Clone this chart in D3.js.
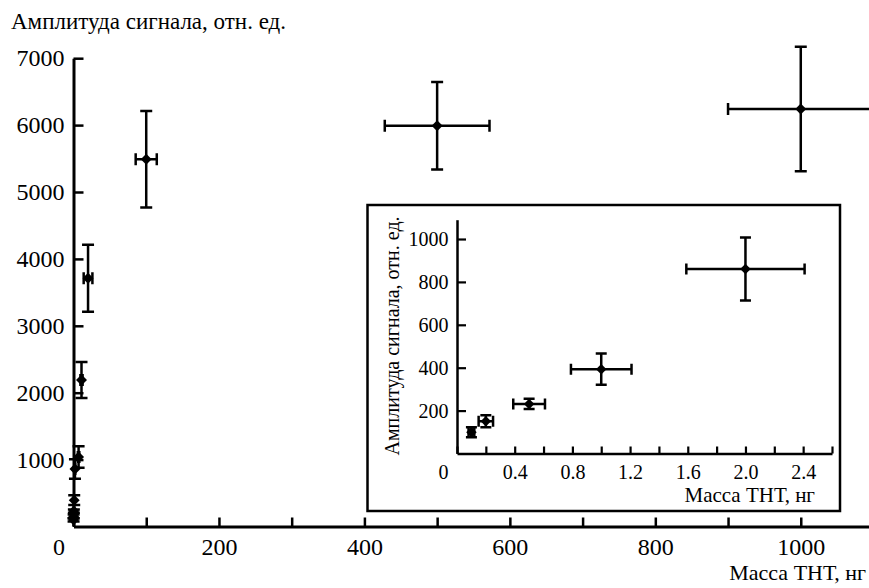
<!DOCTYPE html>
<html>
<head>
<meta charset="utf-8">
<script src="https://cdn.jsdelivr.net/npm/d3@7"></script>
<style>
    html, body { margin: 0; padding: 0; background: #fff; }
    svg { display: block; }
</style>
</head>
<body>
<div id="chart"></div>
<script>
// Mass of TNT, ng, and signal amplitude (rel. units)
const massNg    = [0.1, 0.2, 0.5, 1, 2, 7, 11, 20, 100, 500, 1000];
const massErr   = [0.02, 0.05, 0.11, 0.21, 0.41, 1, 1.5, 6, 14.5, 72, 100];
const amplitude = [99, 150, 231, 393, 860, 1040, 2190, 3710, 5490, 5990, 6240];
const ampErr    = [23, 28, 24, 73, 147, 160, 270, 500, 720, 655, 930];

// the inset zooms on the first five points
const insetCount = 5;

const mainXTicks = d3.range(0, 1001, 100);
const mainYTicks = d3.range(1000, 7001, 1000);
const insetXTicks = d3.range(0, 2.61, 0.2).map(v => +v.toFixed(1));
const insetYTicks = [200, 400, 600, 800, 1000];

const yTitle = 'Амплитуда сигнала, отн. ед.';
const xTitle = 'Масса ТНТ, нг';

const FONT = '"Liberation Serif", "Times New Roman", "DejaVu Serif", serif';
const width = 869, height = 588;

const points = massNg.map((m, i) => ({
    x: m, dx: massErr[i], y: amplitude[i], dy: ampErr[i]
}));

const svg = d3.select('#chart')
    .append('svg')
    .attr('width', width)
    .attr('height', height)
    .style('font-family', FONT);

/**
 * Draw diamonds with x and y error bars into a group
 */
function drawPoints(g, data, x, y, opts) {
    const cap = opts.cap;
    const sw = opts.strokeWidth;

    const pt = g.selectAll('g.pt')
        .data(data)
        .join('g')
        .attr('class', 'pt');

    // vertical error bar
    pt.append('path')
        .attr('d', d => {
            const cx = x(d.x), y1 = y(d.y + d.dy), y2 = y(d.y - d.dy);
            return `M${cx},${y1}V${y2}M${cx - cap},${y1}H${cx + cap}M${cx - cap},${y2}H${cx + cap}`;
        })
        .attr('stroke', '#000')
        .attr('stroke-width', sw)
        .attr('fill', 'none');

    // horizontal error bar
    pt.append('path')
        .attr('d', d => {
            const cy = y(d.y), x1 = x(d.x - d.dx), x2 = x(d.x + d.dx);
            return `M${x1},${cy}H${x2}M${x1},${cy - cap}V${cy + cap}M${x2},${cy - cap}V${cy + cap}`;
        })
        .attr('stroke', '#000')
        .attr('stroke-width', sw)
        .attr('fill', 'none');

    pt.append('path')
        .attr('d', d3.symbol(d3.symbolSquare, opts.size)())
        .attr('transform', d => `translate(${x(d.x)},${y(d.y)}) rotate(45)`)
        .attr('fill', '#000');
}

// restyle a d3 axis: serif labels, black thick lines
function styleAxis(g, fontSize, domainWidth, tickWidth) {
    g.attr('font-family', FONT).attr('font-size', fontSize);
    g.select('.domain').attr('stroke', '#000').attr('stroke-width', domainWidth);
    g.selectAll('.tick line').attr('stroke', '#000').attr('stroke-width', tickWidth);
    g.selectAll('.tick text').attr('fill', '#000').style('font-family', FONT);
}

// ===== main chart =====
const x = d3.scaleLinear().domain([0, 1100]).range([73.5, 873.5]);
const y = d3.scaleLinear().domain([0, 7000]).range([526.5, 58.2]);

const xAxis = svg.append('g')
    .attr('transform', `translate(0,${y(0)})`)
    .call(d3.axisBottom(x)
        .tickValues(mainXTicks)
        .tickSize(-9)
        .tickSizeOuter(0)
        .tickPadding(11.5)
        .tickFormat(d => d % 200 === 0 ? String(d) : ''));
styleAxis(xAxis, 24, 3, 2.5);
xAxis.selectAll('.tick text').attr('dx', d => d === 0 ? -15 : 0);

const yAxis = svg.append('g')
    .attr('transform', `translate(${x(0)},0)`)
    .call(d3.axisLeft(y)
        .tickValues(mainYTicks)
        .tickSize(-10)
        .tickSizeOuter(0)
        .tickPadding(9)
        .tickFormat(d3.format('d')));
styleAxis(yAxis, 24, 3, 2.5);

svg.append('text')
    .attr('x', 11)
    .attr('y', 29)
    .attr('font-size', 23)
    .style('font-family', FONT)
    .text(yTitle);

svg.append('text')
    .attr('x', 866)
    .attr('y', 580)
    .attr('font-size', 22)
    .attr('text-anchor', 'end')
    .style('font-family', FONT)
    .text(xTitle);

drawPoints(svg.append('g'), points, x, y, { cap: 6, strokeWidth: 2.5, size: 60 });

// ===== inset =====
const inset = svg.append('g');

inset.append('rect')
    .attr('x', 367.5).attr('y', 205)
    .attr('width', 472.5).attr('height', 306)
    .attr('fill', '#fff')
    .attr('stroke', '#000')
    .attr('stroke-width', 2.5);

const ix = d3.scaleLinear().domain([0, 2.6]).range([457, 832]);
const iy = d3.scaleLinear().domain([0, 1090]).range([453.5, 219.7]);

const ixAxis = inset.append('g')
    .attr('transform', `translate(0,${iy(0)})`)
    .call(d3.axisBottom(ix)
        .tickValues(insetXTicks)
        .tickSize(-7)
        .tickSizeOuter(0)
        .tickPadding(11.5)
        .tickFormat(d => {
            if (d === 0) return '0';
            return Math.round(d * 10) % 4 === 0 ? d.toFixed(1) : '';
        }));
styleAxis(ixAxis, 20, 2.5, 2.2);
ixAxis.selectAll('.tick text').attr('dx', d => d === 0 ? -14 : 0);

const iyAxis = inset.append('g')
    .attr('transform', `translate(${ix(0)},0)`)
    .call(d3.axisLeft(iy)
        .tickValues(insetYTicks)
        .tickSize(-9)
        .tickSizeOuter(0)
        .tickPadding(8.5)
        .tickFormat(d3.format('d')));
styleAxis(iyAxis, 20, 2.5, 2.2);

inset.append('text')
    .attr('transform', 'translate(399,336) rotate(-90)')
    .attr('font-size', 20)
    .attr('text-anchor', 'middle')
    .style('font-family', FONT)
    .text(yTitle);

inset.append('text')
    .attr('x', 815)
    .attr('y', 502)
    .attr('font-size', 21)
    .attr('text-anchor', 'end')
    .style('font-family', FONT)
    .text(xTitle);

drawPoints(inset.append('g'), points.slice(0, insetCount), ix, iy, { cap: 5.5, strokeWidth: 2.5, size: 55 });
</script>
</body>
</html>
